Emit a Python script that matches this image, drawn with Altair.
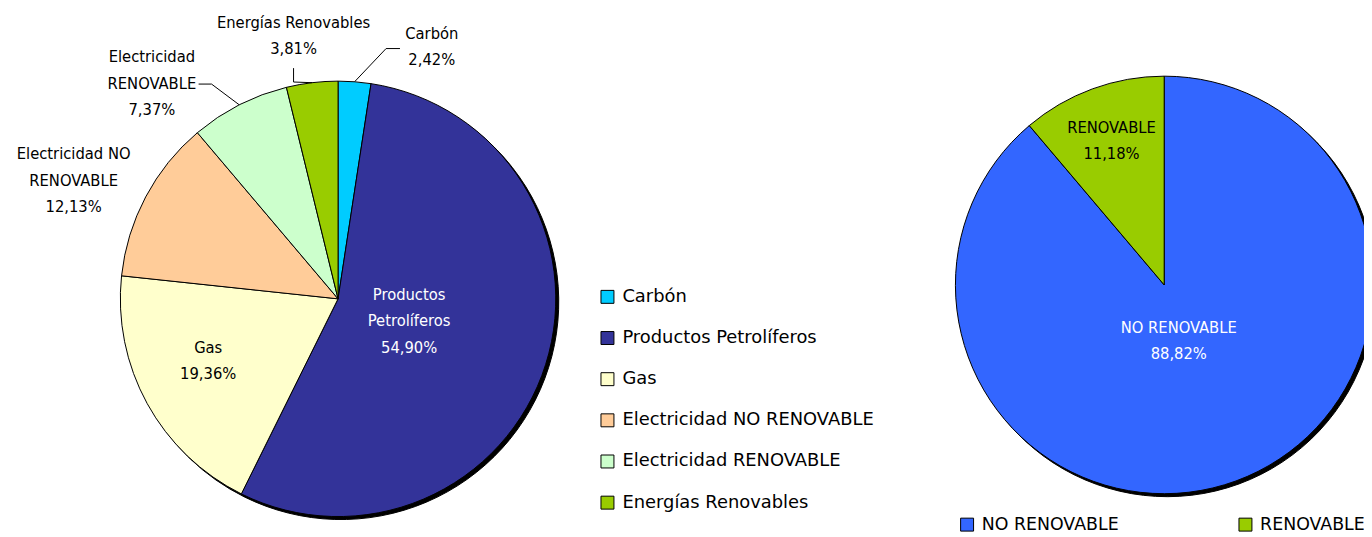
import altair as alt
import pandas as pd

# ---------------- data ----------------
left_cats = ["Carbón", "Productos Petrolíferos", "Gas",
             "Electricidad NO RENOVABLE", "Electricidad RENOVABLE", "Energías Renovables"]
left_vals = [2.42, 54.90, 19.36, 12.13, 7.37, 3.81]
left_label_names = ["Carbón", "Productos\nPetrolíferos", "Gas",
                    "Electricidad NO\nRENOVABLE", "Electricidad\nRENOVABLE", "Energías Renovables"]

right_cats = ["NO RENOVABLE", "RENOVABLE"]
right_vals = [88.82, 11.18]
right_label_names = ["NO RENOVABLE", "RENOVABLE"]

# ---------------- style ----------------
left_colors = ["#00CCFF", "#333399", "#FFFFCC", "#FFCC99", "#CCFFCC", "#99CC00"]
right_colors = ["#3366FF", "#99CC00"]
LABEL_FONT = "DejaVu Sans Condensed, DejaVu Sans, sans-serif"
LEGEND_FONT = "DejaVu Sans, sans-serif"
LABEL_SIZE = 16.5
LINE_H = 26.5

L_CX, L_CY, L_R = 332, 291, 219
R_CX, R_CY, R_R = 1163, 277, 210

# label placement: radius from centre along slice mid-angle, nudge dx, dy, text colour
left_label_style = {
    "Carbón": (254, 75, 0, "black"),
    "Productos Petrolíferos": (75, 0, 0, "white"),
    "Gas": (149, 0, -9.5, "black"),
    "Electricidad NO RENOVABLE": (301, 0, 22, "black"),
    "Electricidad RENOVABLE": (243, -77, 0, "black"),
    "Energías Renovables": (266, -13, 0, "black"),
}
right_label_style = {
    "NO RENOVABLE": (60, -6, 0, "white"),
    "RENOVABLE": (154, 0, 0, "black"),
}
# leader lines: elbow and end offsets relative to label anchor
left_leaders = {
    "Carbón": (-46, 1.5, -32, 1.5),
    "Energías Renovables": (0, 46, 0, 32),
    "Electricidad RENOVABLE": (60, 0.5, 47, 0.5),
}


def fmt(v):
    return f"{v:.2f}".replace(".", ",") + "%"


def build_df(cats, vals, names, lstyle, leaders):
    rows = []
    for i, (c, v, n) in enumerate(zip(cats, vals, names)):
        lr, ldx, ldy, tc = lstyle[c]
        ld = leaders.get(c)
        label = n + "\n" + fmt(v)
        rows.append(dict(cat=c, value=v, idx=i, label=label, nl=label.count("\n") + 1,
                         lr=lr, ldx=ldx, ldy=ldy, tcolor=tc,
                         has_leader=ld is not None,
                         edx=ld[0] if ld else 0, edy=ld[1] if ld else 0,
                         fdx=ld[2] if ld else 0, fdy=ld[3] if ld else 0))
    return pd.DataFrame(rows)


def pie(df, cats, colors, cx, cy, R, legend):
    base = alt.Chart(df)
    theta = alt.Theta("value:Q", stack=True)
    order = alt.Order("idx:Q")
    shadow = base.mark_arc(radius=R, color="black", stroke="black", strokeWidth=1).encode(
        theta=theta, order=order, x=alt.value(cx + 3), y=alt.value(cy + 3))
    arcs = base.mark_arc(radius=R, stroke="black", strokeWidth=1).encode(
        theta=theta, order=order,
        color=alt.Color("cat:N", scale=alt.Scale(domain=cats, range=colors), sort=cats, legend=legend),
        x=alt.value(cx), y=alt.value(cy))
    geo = (base
           .transform_window(cum="sum(value)", sort=[alt.SortField("idx")], frame=[None, 0])
           .transform_joinaggregate(total="sum(value)")
           .transform_calculate(mid="2*PI*(datum.cum - datum.value/2)/datum.total")
           .transform_calculate(
               lx=f"{cx} + datum.lr*sin(datum.mid) + datum.ldx",
               ly=f"{cy} - datum.lr*cos(datum.mid) + datum.ldy",
               ax=f"{cx} + {R}*sin(datum.mid)",
               ay=f"{cy} - {R}*cos(datum.mid)")
           .transform_calculate(
               ty=f"datum.ly - (datum.nl - 1)*{LINE_H}/2",
               ex="datum.lx + datum.edx", ey="datum.ly + datum.edy",
               fx="datum.lx + datum.fdx", fy="datum.ly + datum.fdy"))
    texts = geo.mark_text(font=LABEL_FONT, fontSize=LABEL_SIZE, lineBreak="\n", lineHeight=LINE_H,
                          align="center", baseline="middle").encode(
        x=alt.X("lx:Q", scale=None), y=alt.Y("ty:Q", scale=None),
        text="label:N", fill=alt.Fill("tcolor:N", scale=None))
    lead = geo.transform_filter("datum.has_leader")
    seg1 = lead.mark_rule(color="black", strokeWidth=1).encode(
        x=alt.X("ax:Q", scale=None), y=alt.Y("ay:Q", scale=None), x2="ex:Q", y2="ey:Q")
    seg2 = lead.mark_rule(color="black", strokeWidth=1).encode(
        x=alt.X("ex:Q", scale=None), y=alt.Y("ey:Q", scale=None), x2="fx:Q", y2="fy:Q")
    return alt.layer(shadow, arcs, seg1, seg2, texts)


left_df = build_df(left_cats, left_vals, left_label_names, left_label_style, left_leaders)
right_df = build_df(right_cats, right_vals, right_label_names, right_label_style, {})

left_legend = alt.Legend(title=None, orient="none", legendX=594, legendY=280,
                         direction="vertical", symbolType="square", symbolSize=170,
                         symbolStrokeColor="black", symbolStrokeWidth=1,
                         labelFont=LEGEND_FONT, labelFontSize=18, labelColor="black",
                         labelOffset=6, rowPadding=23.4, labelLimit=400)
right_legend = alt.Legend(title=None, orient="none", legendX=956, legendY=509,
                          direction="horizontal", columns=2, symbolType="square", symbolSize=170,
                          symbolStrokeColor="black", symbolStrokeWidth=1,
                          labelFont=LEGEND_FONT, labelFontSize=17.5, labelColor="black",
                          labelOffset=6, columnPadding=118, labelLimit=400)

left = pie(left_df, left_cats, left_colors, L_CX, L_CY, L_R, left_legend)
right = pie(right_df, right_cats, right_colors, R_CX, R_CY, R_R, right_legend)

chart = (alt.layer(left, right)
         .resolve_scale(theta="independent", color="independent")
         .properties(width=1364, height=529, padding=0, autosize="none", background="white")
         .configure_view(stroke=None))

chart.save("out.html", embed_options={"renderer": "svg", "actions": False})
